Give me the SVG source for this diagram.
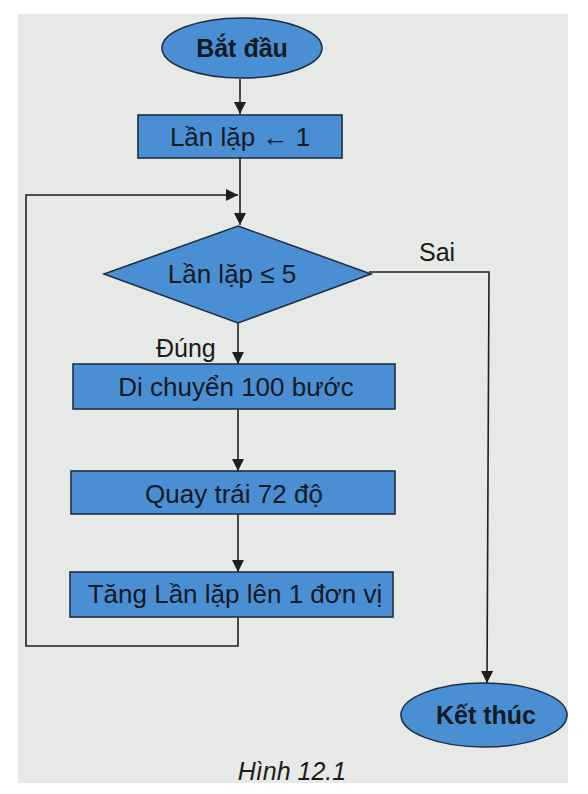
<svg xmlns="http://www.w3.org/2000/svg" width="588" height="794" viewBox="0 0 588 794">
<defs>
<style>
.box{fill:#4a8fd3;stroke:#1f2f44;stroke-width:1.6}
.ln{fill:none;stroke:#1e1e1e;stroke-width:1.6}
.t{font-family:"Liberation Sans",Arial,sans-serif;font-size:26px;fill:#141a22;text-anchor:middle}
.b{font-weight:bold;font-size:25px}
.lb{font-family:"Liberation Sans",Arial,sans-serif;font-size:25px;fill:#1a1a1a}
</style>
<marker id="ah2" viewBox="0 0 10 10" refX="10" refY="5" markerWidth="14" markerHeight="12" orient="auto" markerUnits="userSpaceOnUse"><path d="M0,0 L10,5 L0,10 z" fill="#1e1e1e"/></marker>
</defs>
<rect width="588" height="794" fill="#ffffff"/>
<rect x="18" y="14" width="550" height="769" fill="#e6e9e5"/>
<g id="connectors">
<line class="ln" x1="240" y1="79" x2="240" y2="114" marker-end="url(#ah2)"/>
<line class="ln" x1="240" y1="158" x2="240" y2="225" marker-end="url(#ah2)"/>
<polyline class="ln" points="238,617 238,646 26,646 26,195 238,195" marker-end="url(#ah2)"/>
<line class="ln" x1="238" y1="323" x2="238" y2="364" marker-end="url(#ah2)"/>
<line class="ln" x1="238" y1="409" x2="238" y2="471" marker-end="url(#ah2)"/>
<line class="ln" x1="238" y1="514" x2="238" y2="572" marker-end="url(#ah2)"/>
<polyline class="ln" points="369,272 489,272 487,683" marker-end="url(#ah2)"/>
<text class="lb" x="419" y="261">Sai</text>
<text class="lb" x="156" y="357">Đúng</text>
</g>
<g id="start">
<ellipse class="box" cx="242" cy="48" rx="80" ry="30"/>
<text class="t b" x="242" y="57">Bắt đầu</text>
</g>
<g id="init">
<rect class="box" x="138" y="115" width="204" height="43"/>
<text class="t" x="240" y="146">Lần lặp ← 1</text>
</g>
<g id="cond">
<polygon class="box" points="238,226 371,274 238,323 104,274"/>
<text class="t" x="232" y="283">Lần lặp ≤ 5</text>
</g>
<g id="move">
<rect class="box" x="73" y="364" width="322" height="45"/>
<text class="t" x="236" y="396">Di chuyển 100 bước</text>
</g>
<g id="turn">
<rect class="box" x="71" y="471" width="324" height="43"/>
<text class="t" x="234" y="503">Quay trái 72 độ</text>
</g>
<g id="inc">
<rect class="box" x="70" y="572" width="323" height="45"/>
<text class="t" x="235" y="603">Tăng Lần lặp lên 1 đơn vị</text>
</g>
<g id="end">
<ellipse class="box" cx="484" cy="715" rx="83" ry="32"/>
<text class="t b" x="486" y="724">Kết thúc</text>
</g>
<text x="292" y="780" font-family="Liberation Sans, Arial, sans-serif" font-size="25" font-style="italic" text-anchor="middle" fill="#1a1a1a">Hình 12.1</text>
</svg>
